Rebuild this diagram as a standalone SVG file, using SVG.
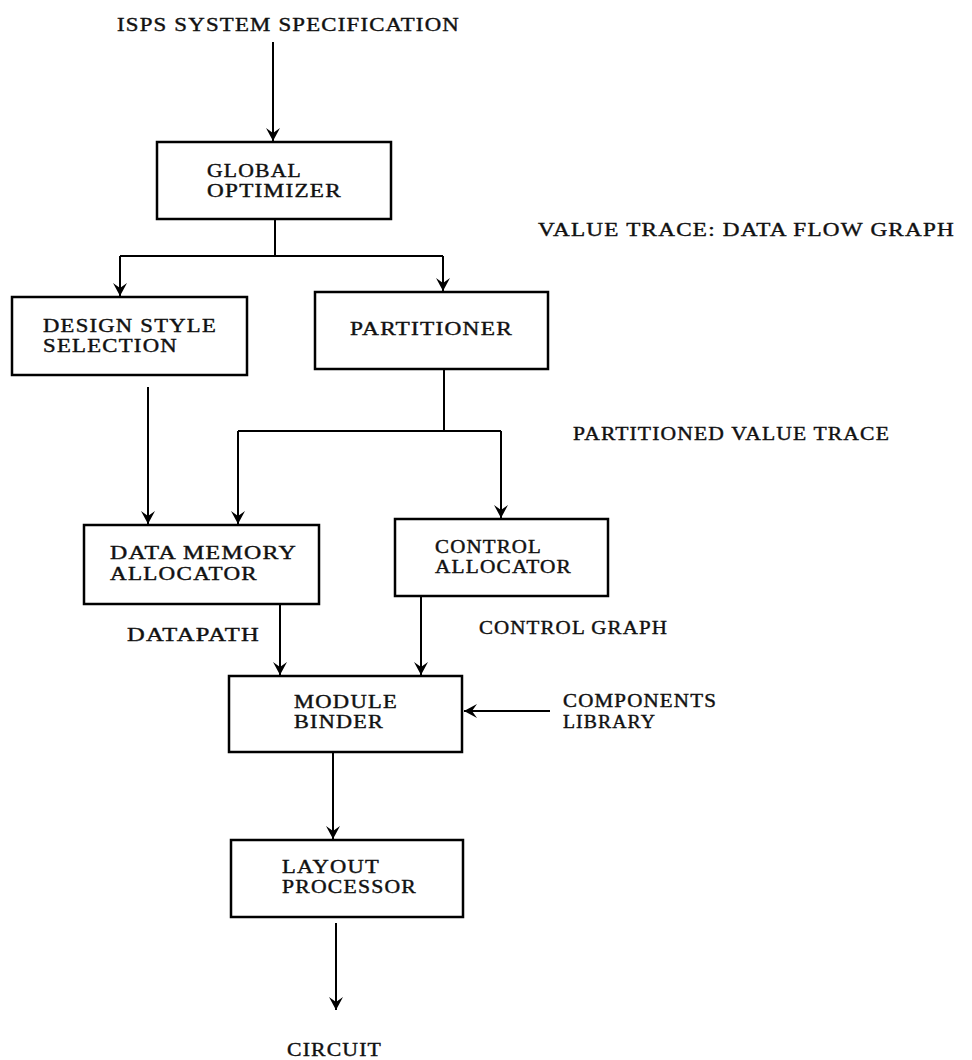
<svg xmlns="http://www.w3.org/2000/svg" width="972" height="1060" viewBox="0 0 972 1060">
  <style>
    .box { fill: #fff; stroke: #000; stroke-width: 2.5; }
    .lbl { font-family: "Liberation Serif", "DejaVu Serif", serif; font-size: 19px; fill: #111; stroke: #111; stroke-width: 0.4; letter-spacing: 1px; }
    .two { font-size: 18px; }
    .wire { fill: none; stroke: #000; stroke-width: 2; }
  </style>
  <defs>
    <marker id="arrow" viewBox="-14 -8 15 16" markerWidth="15" markerHeight="16" refX="0" refY="0" orient="auto" markerUnits="userSpaceOnUse">
      <path d="M0,0 L-13,-7 L-8,0 L-13,7 Z" fill="#000"/>
    </marker>
  </defs>

  <rect width="972" height="1060" fill="#fff"/>

  <!-- free-standing labels -->
  <g id="labels">
    <text class="lbl" x="117" y="31" textLength="343" lengthAdjust="spacingAndGlyphs">ISPS SYSTEM SPECIFICATION</text>
    <text class="lbl" x="538" y="236" textLength="417" lengthAdjust="spacingAndGlyphs">VALUE TRACE: DATA FLOW GRAPH</text>
    <text class="lbl" x="573" y="440" textLength="317" lengthAdjust="spacingAndGlyphs">PARTITIONED VALUE TRACE</text>
    <text class="lbl" x="127" y="641" textLength="133" lengthAdjust="spacingAndGlyphs">DATAPATH</text>
    <text class="lbl" x="479" y="634" textLength="189" lengthAdjust="spacingAndGlyphs">CONTROL GRAPH</text>
    <text class="lbl two" x="563" y="707" textLength="154" lengthAdjust="spacingAndGlyphs">COMPONENTS</text>
    <text class="lbl two" x="563" y="728" textLength="93" lengthAdjust="spacingAndGlyphs">LIBRARY</text>
    <text class="lbl" x="287" y="1056" textLength="95" lengthAdjust="spacingAndGlyphs">CIRCUIT</text>
  </g>

  <!-- connectors -->
  <g id="connectors">
    <path class="wire" d="M273,42 V141" marker-end="url(#arrow)"/>
    <path class="wire" d="M275,219 V256"/>
    <path class="wire" d="M120,256 H443"/>
    <path class="wire" d="M120,256 V296" marker-end="url(#arrow)"/>
    <path class="wire" d="M443,256 V291" marker-end="url(#arrow)"/>
    <path class="wire" d="M148,387 V524" marker-end="url(#arrow)"/>
    <path class="wire" d="M444,369 V431"/>
    <path class="wire" d="M238,431 H501"/>
    <path class="wire" d="M238,431 V524" marker-end="url(#arrow)"/>
    <path class="wire" d="M501,431 V518" marker-end="url(#arrow)"/>
    <path class="wire" d="M280,604 V675" marker-end="url(#arrow)"/>
    <path class="wire" d="M421,597 V675" marker-end="url(#arrow)"/>
    <path class="wire" d="M550,711 H464" marker-end="url(#arrow)"/>
    <path class="wire" d="M333,752 V839" marker-end="url(#arrow)"/>
    <path class="wire" d="M336,923 V1010" marker-end="url(#arrow)"/>
  </g>

  <!-- process boxes -->
  <g id="global-optimizer">
    <rect class="box" x="157" y="142" width="234" height="77"/>
    <text class="lbl two" x="207" y="177" textLength="95" lengthAdjust="spacingAndGlyphs">GLOBAL</text>
    <text class="lbl two" x="207" y="197" textLength="135" lengthAdjust="spacingAndGlyphs">OPTIMIZER</text>
  </g>

  <g id="design-style-selection">
    <rect class="box" x="12" y="297" width="235" height="78"/>
    <text class="lbl two" x="43" y="332" textLength="174" lengthAdjust="spacingAndGlyphs">DESIGN STYLE</text>
    <text class="lbl two" x="43" y="352" textLength="135" lengthAdjust="spacingAndGlyphs">SELECTION</text>
  </g>

  <g id="partitioner">
    <rect class="box" x="315" y="292" width="233" height="77"/>
    <text class="lbl" x="350" y="335" textLength="163" lengthAdjust="spacingAndGlyphs">PARTITIONER</text>
  </g>

  <g id="data-memory-allocator">
    <rect class="box" x="84" y="525" width="235" height="79"/>
    <text class="lbl two" x="110" y="559" textLength="187" lengthAdjust="spacingAndGlyphs">DATA MEMORY</text>
    <text class="lbl two" x="110" y="580" textLength="148" lengthAdjust="spacingAndGlyphs">ALLOCATOR</text>
  </g>

  <g id="control-allocator">
    <rect class="box" x="395" y="519" width="213" height="77"/>
    <text class="lbl two" x="435" y="553" textLength="107" lengthAdjust="spacingAndGlyphs">CONTROL</text>
    <text class="lbl two" x="435" y="573" textLength="137" lengthAdjust="spacingAndGlyphs">ALLOCATOR</text>
  </g>

  <g id="module-binder">
    <rect class="box" x="229" y="676" width="233" height="76"/>
    <text class="lbl two" x="294" y="708" textLength="104" lengthAdjust="spacingAndGlyphs">MODULE</text>
    <text class="lbl two" x="294" y="728" textLength="90" lengthAdjust="spacingAndGlyphs">BINDER</text>
  </g>

  <g id="layout-processor">
    <rect class="box" x="231" y="840" width="232" height="77"/>
    <text class="lbl two" x="282" y="873" textLength="98" lengthAdjust="spacingAndGlyphs">LAYOUT</text>
    <text class="lbl two" x="282" y="893" textLength="135" lengthAdjust="spacingAndGlyphs">PROCESSOR</text>
  </g>
</svg>
